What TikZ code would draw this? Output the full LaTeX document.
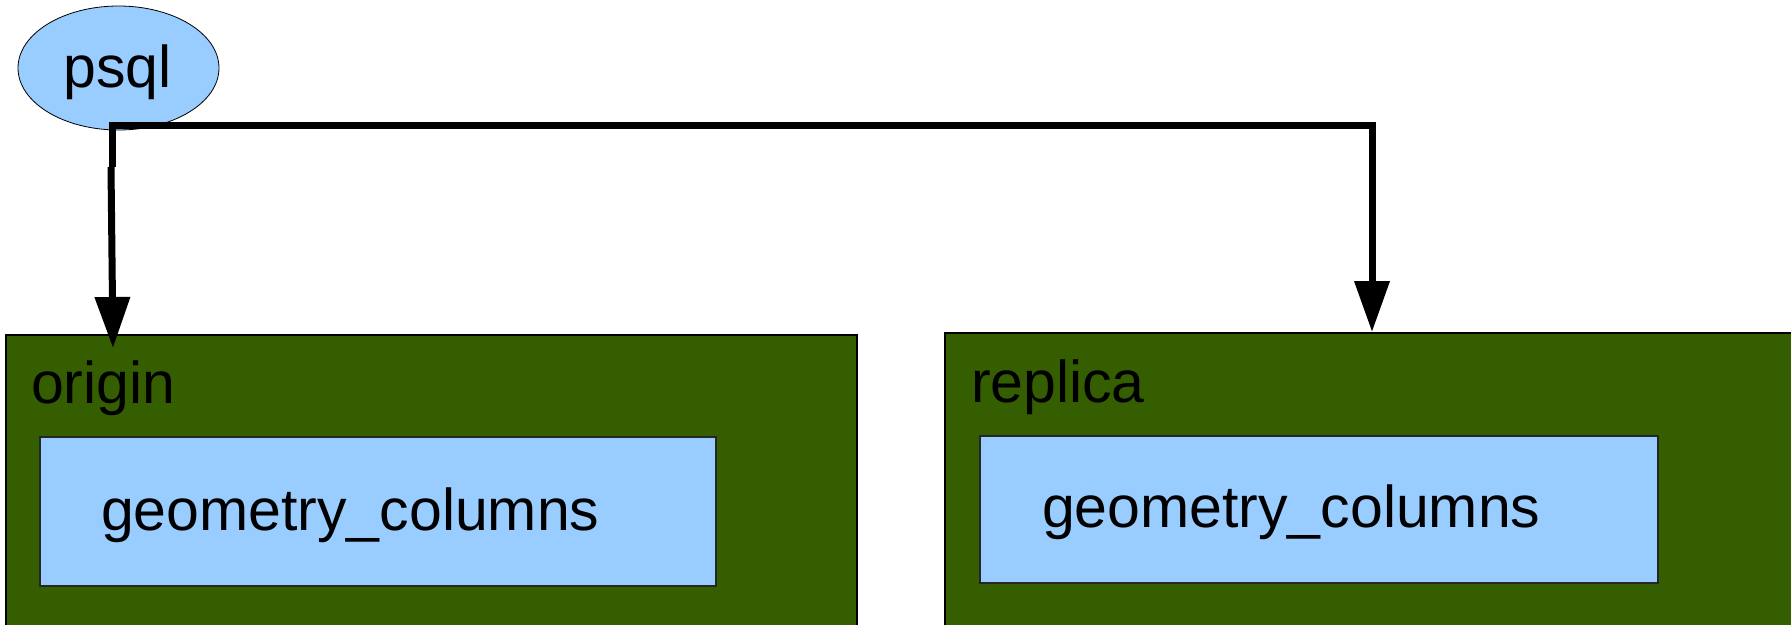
\documentclass[tikz,border=0pt]{standalone}
\usepackage{fontspec}
\setmainfont{Liberation Sans}
\usetikzlibrary{arrows.meta,shapes.geometric}
\definecolor{dgreen}{RGB}{53,94,0}
\definecolor{lblue}{RGB}{153,204,255}
\begin{document}
\begin{tikzpicture}[x=1pt,y=-1pt,
  lbl/.style={inner sep=0pt, outer sep=0pt, anchor=base west, font=\fontsize{59}{69}\selectfont},
  outerbox/.style={draw=black, fill=dgreen, line width=1.2pt, rectangle, inner sep=0pt, outer sep=0pt, anchor=north west},
  innerbox/.style={draw=black!85, fill=lblue, line width=1.2pt, rectangle, inner sep=0pt, outer sep=0pt, anchor=north west},
  conn/.style={line width=7pt, -{Triangle[width=34pt,length=51pt]}},
  plain/.style={line width=7pt},
]
\clip (0,0) rectangle (1791,624);
\fill[white] (0,0) rectangle (1791,624);
% boxes
\node[outerbox, minimum width=851pt, minimum height=330pt] (origin) at (6,335) {};
\node[innerbox, minimum width=676pt, minimum height=149pt] (originIn) at (40,437) {};
\node[lbl] (originLbl) at (31,403) {origin};
\node[lbl] (originTxt) at (101,530) {geometry\_columns};
\node[outerbox, minimum width=860pt, minimum height=330pt] (replica) at (945,333) {};
\node[innerbox, minimum width=678pt, minimum height=147pt] (replicaIn) at (980,436) {};
\node[lbl] (replicaLbl) at (971,402) {replica};
\node[lbl] (replicaTxt) at (1042,527) {geometry\_columns};
% psql
\node[ellipse, draw=black, fill=lblue, line width=0.8pt, minimum width=201pt, minimum height=124pt, inner sep=0pt] (psql) at (118.5,68) {};
\node[lbl, anchor=base] (psqlTxt) at (117.5,87) {psql};
% connectors
\coordinate (j) at (112,125);
\coordinate (jb) at (112,167);
\coordinate (jc) at (111,167);
\coordinate (originTip) at (113,348);
\coordinate (replicaTip) at (1372,332);
\draw[plain, line cap=butt] (j) -- (jb);
\draw[conn] (jc) -- (originTip);
\draw[conn, line join=miter] ([xshift=-3.5pt]j) -| (replicaTip);
\end{tikzpicture}
\end{document}
